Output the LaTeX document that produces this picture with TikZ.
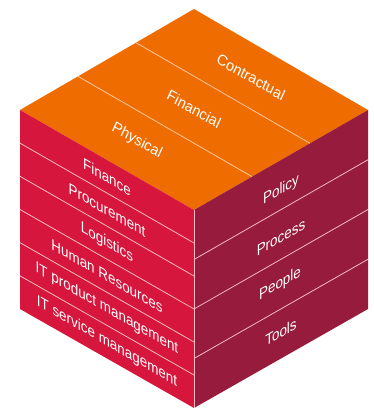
\documentclass[tikz,border=0pt]{standalone}
\usepackage{fontspec}
\setmainfont{Liberation Sans}
\usetikzlibrary{calc}
\definecolor{toporange}{RGB}{239,108,0}
\definecolor{leftred}{RGB}{214,22,60}
\definecolor{rightred}{RGB}{150,27,60}
\definecolor{sepline}{RGB}{250,185,195}
\definecolor{sepup}{RGB}{255,200,160}
\begin{document}
\begin{tikzpicture}[x=1pt,y=-1pt,
  sep/.style={draw=sepline, line width=0.8pt},
  septop/.style={draw=sepup, line width=0.8pt},
  facetext/.style={text=white, inner sep=0pt, transform shape, font=\fontsize{15.5}{16}\selectfont},
  lefttext/.style={facetext, cm={0.866,-0.5,0,1,(0,0)}},
  righttext/.style={facetext, cm={0.866,0.5,0,1,(0,0)}},
  toptext/.style={facetext, font=\fontsize{15}{16}\selectfont, cm={0.866,-0.5,0.42,0.9,(0,0)}}]
\useasboundingbox (0,0) rectangle (374,410);
\coordinate (T) at (194,9);
\coordinate (L) at (20,110);
\coordinate (R) at (368,110);
\coordinate (F) at (194,210);
\coordinate (LB) at (20,309);
\coordinate (RB) at (368,309);
\coordinate (FB) at (194,408);
% faces
\fill[toporange] (T) -- (L) -- (F) -- (R) -- cycle;
\fill[leftred] (L) -- (F) -- (FB) -- (LB) -- cycle;
\fill[rightred] (F) -- (R) -- (RB) -- (FB) -- cycle;
% separators
\foreach \k in {1,2} \draw[septop] ($(T)!\k/3!(L)$) -- ($(R)!\k/3!(F)$);
\foreach \k in {1,...,5} \draw[sep] ($(L)!\k/6!(LB)$) -- ($(F)!\k/6!(FB)$);
\foreach \k in {1,2,3} \draw[sep] ($(F)!\k/4!(FB)$) -- ($(R)!\k/4!(RB)$);
\draw[sep] (F) -- (FB);
% top texts
\node[toptext] (contractual) at (251,77) {Contractual};
\node[toptext] (financial) at (194,109) {Financial};
\node[toptext] (physical) at (137,141) {Physical};
% left texts
\node[lefttext] (finance) at (107,177) {Finance};
\node[lefttext] (procurement) at (107,210) {Procurement};
\node[lefttext] (logistics) at (107,243) {Logistics};
\node[lefttext] (hr) at (107,276) {Human Resources};
\node[lefttext] (itpm) at (107,309) {IT product management};
\node[lefttext] (itsm) at (107,342) {IT service management};
% right texts
\node[righttext] (policy) at (281,190) {Policy};
\node[righttext] (process) at (281,237) {Process};
\node[righttext] (people) at (280,284) {People};
\node[righttext] (tools) at (281,332) {Tools};
\end{tikzpicture}
\end{document}
